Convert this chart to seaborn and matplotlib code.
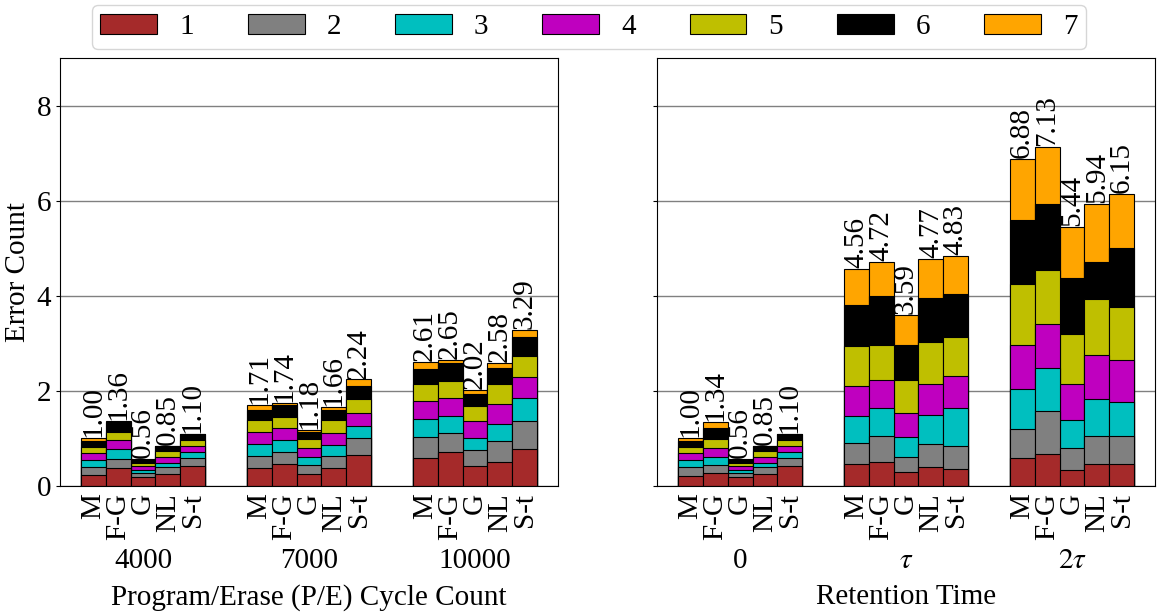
import numpy as np
import pandas as pd
import matplotlib
matplotlib.use("Agg")
import matplotlib.pyplot as plt
from matplotlib.patches import Patch
import seaborn as sns

methods = ["M", "F-G", "G", "NL", "S-t"]
pe_groups = ["4000", "7000", "10000"]
ret_groups = ["0", r"$\tau$", r"$2\tau$"]
levels = ["1", "2", "3", "4", "5", "6", "7"]
level_colors = ["brown", "gray", "c", "m", "y", "black", "orange"]

# error count per level 1..7, one row per method (M, F-G, G, NL, S-t)
pe_4000 = [[0.23, 0.16, 0.16, 0.14, 0.14, 0.12, 0.05],
           [0.37, 0.20, 0.20, 0.19, 0.18, 0.21, 0.01],
           [0.18, 0.10, 0.06, 0.07, 0.07, 0.07, 0.01],
           [0.25, 0.14, 0.10, 0.13, 0.12, 0.10, 0.01],
           [0.41, 0.17, 0.13, 0.13, 0.13, 0.12, 0.01]]
pe_7000 = [[0.37, 0.27, 0.25, 0.24, 0.25, 0.22, 0.11],
           [0.46, 0.26, 0.25, 0.24, 0.24, 0.26, 0.03],
           [0.26, 0.19, 0.15, 0.19, 0.19, 0.16, 0.04],
           [0.38, 0.26, 0.22, 0.26, 0.26, 0.22, 0.06],
           [0.65, 0.35, 0.26, 0.27, 0.30, 0.27, 0.14]]
pe_10000 = [[0.58, 0.45, 0.37, 0.38, 0.36, 0.32, 0.15],
            [0.71, 0.40, 0.36, 0.39, 0.34, 0.38, 0.07],
            [0.41, 0.35, 0.25, 0.35, 0.32, 0.26, 0.08],
            [0.51, 0.43, 0.36, 0.42, 0.42, 0.34, 0.10],
            [0.78, 0.58, 0.48, 0.46, 0.44, 0.40, 0.15]]
ret_0 = [[0.22, 0.17, 0.16, 0.14, 0.14, 0.12, 0.05],
         [0.27, 0.17, 0.16, 0.19, 0.19, 0.23, 0.13],
         [0.18, 0.10, 0.06, 0.07, 0.07, 0.07, 0.01],
         [0.25, 0.14, 0.10, 0.13, 0.12, 0.10, 0.01],
         [0.41, 0.17, 0.13, 0.13, 0.13, 0.12, 0.01]]
ret_tau = [[0.46, 0.44, 0.58, 0.62, 0.85, 0.85, 0.76],
           [0.50, 0.56, 0.58, 0.58, 0.75, 1.02, 0.73],
           [0.29, 0.33, 0.40, 0.51, 0.69, 0.74, 0.63],
           [0.39, 0.49, 0.61, 0.66, 0.87, 0.93, 0.82],
           [0.36, 0.48, 0.80, 0.68, 0.82, 0.90, 0.79]]
ret_2tau = [[0.58, 0.61, 0.85, 0.92, 1.29, 1.34, 1.29],
            [0.67, 0.90, 0.91, 0.92, 1.15, 1.37, 1.21],
            [0.34, 0.45, 0.59, 0.76, 1.05, 1.18, 1.07],
            [0.46, 0.60, 0.77, 0.92, 1.18, 0.79, 1.22],
            [0.46, 0.59, 0.72, 0.88, 1.11, 1.24, 1.15]]

pe_totals = [1.00, 1.36, 0.56, 0.85, 1.10,
             1.71, 1.74, 1.18, 1.66, 2.24,
             2.61, 2.65, 2.02, 2.58, 3.29]
ret_totals = [1.00, 1.34, 0.56, 0.85, 1.10,
              4.56, 4.72, 3.59, 4.77, 4.83,
              6.88, 7.13, 5.44, 5.94, 6.15]

sns.set_style("white")
plt.rcParams["font.family"] = ["Liberation Serif", "DejaVu Serif"]
plt.rcParams["mathtext.fontset"] = "stix"
for key in ["text.color", "axes.labelcolor", "xtick.color", "ytick.color"]:
    plt.rcParams[key] = "black"
FS = 21
BAR_W = 0.15


def draw_panel(ax, groups, data, totals, xlabel):
    seg = np.array(data).reshape(-1, len(levels))
    cum = seg.cumsum(axis=1)
    pos = [g + (i - 2) * BAR_W for g in range(len(groups)) for i in range(len(methods))]
    # draw cumulative totals from the top level down so they look stacked
    for k in reversed(range(len(levels))):
        df = pd.DataFrame({"pos": pos, "val": cum[:, k]})
        sns.barplot(data=df, x="pos", y="val", native_scale=True, width=1,
                    color=level_colors[k], saturation=1, edgecolor="black",
                    linewidth=0.8, errorbar=None, ax=ax)
    for p, top, t in zip(pos, cum[:, -1], totals):
        ax.text(p, top + 0.02, f"{t:.2f}", rotation=90, ha="center", va="bottom", fontsize=FS)
    ax.set_xticks(pos)
    ax.set_xticklabels(methods * len(groups), rotation=90, fontsize=FS)
    ax.tick_params(axis="x", length=3, pad=2)
    for g, name in enumerate(groups):
        ax.annotate(name, xy=(g, 0), xycoords=("data", "axes fraction"),
                    xytext=(0, -54), textcoords="offset points",
                    ha="center", va="center", fontsize=FS)
    ax.set_xlim(-0.5, 2.5)
    ax.set_ylim(0, 9)
    ax.set_yticks([0, 2, 4, 6, 8])
    ax.yaxis.grid(True, color="gray", linewidth=1)
    ax.set_axisbelow(True)
    ax.set_xlabel(xlabel, fontsize=FS)
    ax.xaxis.set_label_coords(0.5, -0.228)
    ax.set_ylabel("")
    for s in ax.spines.values():
        s.set_color("black")
        s.set_linewidth(0.8)


fig = plt.figure(figsize=(11.57, 6.13), dpi=100)
ax1 = fig.add_axes([0.0519, 0.2072, 0.4304, 0.6982])
ax2 = fig.add_axes([0.5679, 0.2072, 0.4304, 0.6982], sharey=ax1)

draw_panel(ax1, pe_groups, pe_4000 + pe_7000 + pe_10000, pe_totals,
           "Program/Erase (P/E) Cycle Count")
draw_panel(ax2, ret_groups, ret_0 + ret_tau + ret_2tau, ret_totals, "Retention Time")

ax1.set_ylabel("Error Count", fontsize=FS)
ax1.tick_params(axis="y", labelsize=FS, left=True, length=3)
ax2.tick_params(axis="y", labelleft=False, left=True, length=3)

handles = [Patch(facecolor=c, edgecolor="black", linewidth=0.8, label=l)
           for c, l in zip(level_colors, levels)]
fig.legend(handles=handles, loc="upper center", bbox_to_anchor=(0.509, 0.997),
           ncol=7, fontsize=FS, handlelength=1.95, handletextpad=0.75,
           columnspacing=1.85, borderpad=0.3, borderaxespad=0.1, frameon=True)

fig.savefig("out.png", dpi=100)
